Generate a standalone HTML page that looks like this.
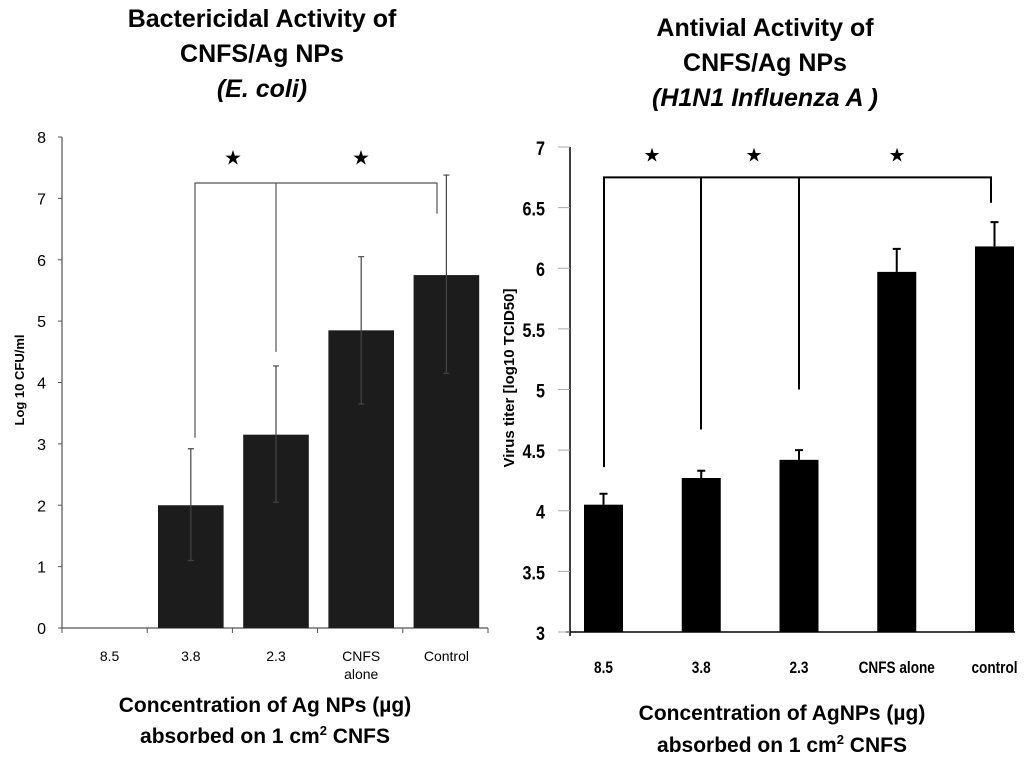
<!DOCTYPE html>
<html><head><meta charset="utf-8"><style>
body{margin:0;background:#fff;width:1024px;height:760px;overflow:hidden}
svg{display:block}
text{font-family:"Liberation Sans",sans-serif}
</style></head><body>
<svg id="c" width="1024" height="760">
<g font-weight="bold" font-size="25" text-anchor="middle">
<text x="262" y="27">Bactericidal Activity of</text>
<text x="262" y="62">CNFS/Ag NPs</text>
<text x="262" y="97" font-style="italic">(E. coli)</text>
</g>
<g font-weight="bold" font-size="25" text-anchor="middle">
<text x="765" y="36">Antivial Activity of</text>
<text x="765" y="71">CNFS/Ag NPs</text>
<text x="765" y="106" font-style="italic">(H1N1 Influenza A )</text>
</g>
<g id="L"></g><g id="R"></g>
<text transform="translate(24,380) rotate(-90)" text-anchor="middle" font-size="13" font-weight="bold">Log 10 CFU/ml</text>
<text transform="translate(514,378) rotate(-90)" text-anchor="middle" font-size="15" font-weight="bold">Virus titer [log10 TCID50]</text>
<g font-weight="bold" font-size="21" text-anchor="middle">
<text x="265" y="712">Concentration of Ag NPs (µg)</text>
<text x="265" y="743">absorbed on 1 cm<tspan font-size="13" dy="-8">2</tspan><tspan dy="8">  CNFS</tspan></text>
</g>
<g font-weight="bold" font-size="21" text-anchor="middle">
<text x="782" y="720">Concentration of AgNPs (µg)</text>
<text x="782" y="752">absorbed on 1 cm<tspan font-size="13" dy="-8">2</tspan><tspan dy="8">  CNFS</tspan></text>
</g>
</svg>
<script>
const leftCats=["8.5","3.8","2.3","CNFS|alone","Control"];
const leftVals=[null,2.0,3.15,4.85,5.75];
const leftErrLo=[null,1.1,2.05,3.65,4.15];
const leftErrHi=[null,2.92,4.27,6.05,7.38];
const leftTicks=[0,1,2,3,4,5,6,7,8];
const rightCats=["8.5","3.8","2.3","CNFS alone","control"];
const rightVals=[4.05,4.27,4.42,5.97,6.18];
const rightErrHi=[4.14,4.33,4.5,6.16,6.38];
const rightTicks=["3","3.5","4","4.5","5","5.5","6","6.5","7"];
const NS="http://www.w3.org/2000/svg";
function mk(p,t,a,txt){const e=document.createElementNS(NS,t);for(const k in a)e.setAttribute(k,a[k]);if(txt!=null)e.textContent=txt;p.appendChild(e);return e;}
// left chart
(function(){
const g=document.getElementById('L');
const x0=62,x1=488,y0=628,y8=137;
const ys=v=>y0-(v/8)*(y0-y8);
const band=(x1-x0)/leftCats.length;
const xc=i=>x0+band*(i+0.5);
let e=mk(g,'line',{x1:x0,y1:y8,x2:x0,y2:y0,stroke:'#555','stroke-width':1.2});

e=mk(g,'line',{x1:x0,y1:y0,x2:x1,y2:y0,stroke:'#555','stroke-width':1.2});

leftTicks.forEach(t=>{
 mk(g,'line',{x1:x0-4,y1:ys(t),x2:x0,y2:ys(t),stroke:'#555'});
 e=mk(g,'text',{x:x0-16,y:ys(t)+6,'text-anchor':'end','font-size':16},t);
 
});
for(let i=0;i<=leftCats.length;i++)mk(g,'line',{x1:x0+band*i,y1:y0,x2:x0+band*i,y2:y0+5,stroke:'#555'});
leftCats.forEach((c,i)=>{
 const parts=c.split('|');
 parts.forEach((p,j)=>{e=mk(g,'text',{x:xc(i)+(i==0?5:1),y:y0+33+j*18,'text-anchor':'middle','font-size':14},p);
 });
 if(leftVals[i]==null)return;
 const w=band*0.77;
 e=mk(g,'rect',{x:xc(i)-w/2+1,y:ys(leftVals[i]),width:w,height:y0-ys(leftVals[i]),fill:'#1c1c1c'});
 
 const ex=xc(i)+1;
 e=mk(g,'path',{d:`M${ex} ${ys(leftErrLo[i])}V${ys(leftErrHi[i])}M${ex-3} ${ys(leftErrLo[i])}h6M${ex-3} ${ys(leftErrHi[i])}h6`,stroke:'#444','stroke-width':1.2,fill:'none'});
 
});
const yb=ys(7.25);
e=mk(g,'path',{d:`M195 ${ys(3.1)}V${yb}H437V${ys(6.75)}M276 ${yb}V${ys(4.5)}`,stroke:'#555','stroke-width':1.2,fill:'none'});

[233,361].forEach(x=>{e=mk(g,'text',{x:x,y:ys(7.55),'text-anchor':'middle','font-size':20},'★');
 });
})();
// right chart
(function(){
const g=document.getElementById('R');
const x0=570,x1=1015,y0=632,yT=147,lo=3,hi=7;
const ys=v=>y0-(v-lo)/(hi-lo)*(y0-yT);
const xc=i=>x0+33.5+i*97.75;
let e=mk(g,'line',{x1:x0,y1:yT,x2:x0,y2:y0+4,stroke:'#000','stroke-width':1.5});

e=mk(g,'line',{x1:x0-4,y1:y0,x2:x1,y2:y0,stroke:'#000','stroke-width':1.5});

rightTicks.forEach(t=>{
 const v=parseFloat(t);
 mk(g,'line',{x1:x0-12,y1:ys(v),x2:x0,y2:ys(v),stroke:'#aaa'});
 e=mk(g,'text',{x:(x0-25)/0.85,y:ys(v)+8,'text-anchor':'end','font-size':19,'font-weight':'bold',transform:'scale(0.85,1)'},t);
 
});
rightCats.forEach((c,i)=>{
 const cx=xc(i);
 e=mk(g,'text',{x:cx/0.8,y:y0+41,'text-anchor':'middle','font-size':17,'font-weight':'bold',transform:'scale(0.8,1)'},c);
 
 const w=39;
 e=mk(g,'rect',{x:cx-w/2,y:ys(rightVals[i]),width:w,height:y0-ys(rightVals[i]),fill:'#000'});
 
 e=mk(g,'path',{d:`M${cx} ${ys(rightVals[i])}V${ys(rightErrHi[i])}M${cx-4} ${ys(rightErrHi[i])}h8`,stroke:'#000','stroke-width':2,fill:'none'});
 
});
const yb=ys(6.75);
e=mk(g,'path',{d:`M604 ${ys(4.36)}V${yb}H991V${ys(6.54)}M701 ${yb}V${ys(4.67)}M799 ${yb}V${ys(5.0)}`,stroke:'#000','stroke-width':2,fill:'none'});

[652,754,897].forEach(x=>{e=mk(g,'text',{x:x,y:ys(6.88),'text-anchor':'middle','font-size':19},'★');
 });
})();
</script>
</body></html>
